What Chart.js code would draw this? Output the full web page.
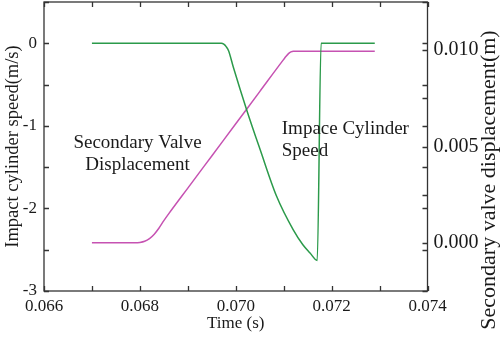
<!DOCTYPE html>
<html>
<head>
<meta charset="utf-8">
<script src="https://cdn.jsdelivr.net/npm/chart.js@4"></script>
<style>
  body { margin: 0; background: #fff; }
</style>
</head>
<body>
<canvas id="chart" width="500" height="341"></canvas>
<script>
// Impact cylinder speed (left axis, m/s)
const speedTime = [0.0670, 0.06970, 0.06975, 0.06980, 0.06985, 0.06995, 0.07023, 0.07051, 0.07085, 0.07120, 0.07140, 0.07155, 0.07170, 0.07178, 0.0729];
const speed     = [0,      0,       -0.01,   -0.04,   -0.09,   -0.29,   -0.81,   -1.29,   -1.85,   -2.26,   -2.44,   -2.54,   -2.63,    0,       0];

// Secondary valve displacement (right axis, m)
const valveTime = [0.0670, 0.0679, 0.0680, 0.0681, 0.0682, 0.0683, 0.0684, 0.0685, 0.0686, 0.0690, 0.0695, 0.0700, 0.0705, 0.0710, 0.07105, 0.0711, 0.07115, 0.0712, 0.0729];
const valveDisp = [0,      0,      0.00002, 0.00008, 0.00022, 0.00045, 0.00077, 0.00115, 0.00150, 0.00284, 0.00451, 0.00618, 0.00785, 0.00952, 0.00968, 0.00982, 0.00991, 0.00995, 0.00995];

const xTicks = [0.066, 0.068, 0.070, 0.072, 0.074];
const speedTicks = [-3, -2, -1, 0];
const dispTicks = [0.000, 0.005, 0.010];

const green = "#2b9a4a";
const pink = "#c652b2";
const axisColor = "#333";
const textColor = "#1a1a1a";
const serif = "'Liberation Serif', 'Times New Roman', serif";

// text notes, placed in data coordinates
const notes = [
  { text: "Secondary Valve", x: 0.06795, y: -1.27, align: "center" },
  { text: "Displacement",    x: 0.06795, y: -1.54, align: "center" },
  { text: "Impace Cylinder", x: 0.07096, y: -1.10, align: "left" },
  { text: "Speed",           x: 0.07096, y: -1.37, align: "left" }
];

// frame, inward ticks, notes and right title
const frameTicks = {
  id: "frameTicks",
  afterDraw(chart) {
    const { ctx, chartArea: a, scales } = chart;
    ctx.save();
    ctx.strokeStyle = axisColor;
    ctx.lineWidth = 1.3;
    ctx.strokeRect(a.left, a.top, a.right - a.left, a.bottom - a.top);
    ctx.beginPath();
    for (let i = 0; i <= 8; i++) {
      const px = Math.round(scales.x.getPixelForValue(0.066 + i * 0.001)) + 0.5;
      ctx.moveTo(px, a.bottom); ctx.lineTo(px, a.bottom - 5);
      ctx.moveTo(px, a.top); ctx.lineTo(px, a.top + 5);
    }
    for (let i = 0; i <= 7; i++) {
      const py = Math.round(scales.y.getPixelForValue(-3 + i * 0.5)) + 0.5;
      ctx.moveTo(a.left, py); ctx.lineTo(a.left + 5, py);
      ctx.moveTo(a.right, py); ctx.lineTo(a.right - 5, py);
    }
    for (let i = 0; i <= 4; i++) {
      const py = Math.round(scales.y2.getPixelForValue(i * 0.0025)) + 0.5;
      ctx.moveTo(a.right, py); ctx.lineTo(a.right - 5, py);
    }
    ctx.stroke();

    ctx.fillStyle = textColor;
    ctx.font = "19px " + serif;
    ctx.textBaseline = "alphabetic";
    notes.forEach(n => {
      ctx.textAlign = n.align;
      ctx.fillText(n.text, scales.x.getPixelForValue(n.x), scales.y.getPixelForValue(n.y));
    });

    ctx.translate(489, 180);
    ctx.rotate(-Math.PI / 2);
    ctx.font = "22px " + serif;
    ctx.textAlign = "center";
    ctx.textBaseline = "middle";
    ctx.fillText("Secondary valve displacement(m)", 0, 0);
    ctx.restore();
  }
};

new Chart(document.getElementById("chart"), {
  type: "line",
  data: {
    datasets: [
      {
        label: "Impace Cylinder Speed",
        data: speedTime.map((t, i) => ({ x: t, y: speed[i] })),
        borderColor: green,
        borderWidth: 1.5,
        pointRadius: 0,
        cubicInterpolationMode: "monotone",
        yAxisID: "y"
      },
      {
        label: "Secondary Valve Displacement",
        data: valveTime.map((t, i) => ({ x: t, y: valveDisp[i] })),
        borderColor: pink,
        borderWidth: 1.5,
        pointRadius: 0,
        cubicInterpolationMode: "monotone",
        yAxisID: "y2"
      }
    ]
  },
  options: {
    responsive: false,
    devicePixelRatio: 1,
    animation: false,
    layout: { padding: { top: 2, right: 0, left: 0, bottom: 0 } },
    plugins: { legend: { display: false }, tooltip: { enabled: false } },
    scales: {
      x: {
        type: "linear",
        min: 0.066,
        max: 0.074,
        grid: { display: false, drawTicks: false },
        border: { display: false },
        afterBuildTicks: s => { s.ticks = xTicks.map(v => ({ value: v })); },
        ticks: {
          padding: 5,
          color: textColor,
          font: { family: serif, size: 17 },
          callback: v => v.toFixed(3)
        },
        title: {
          display: true,
          text: "Time (s)",
          color: textColor,
          font: { family: serif, size: 17 },
          padding: { top: 0, bottom: 7 }
        },
        afterFit: s => { s.height = 50; s.paddingLeft = 0; s.paddingRight = 0; }
      },
      y: {
        position: "left",
        min: -3,
        max: 0.5,
        grid: { display: false, drawTicks: false },
        border: { display: false },
        afterBuildTicks: s => { s.ticks = speedTicks.map(v => ({ value: v })); },
        ticks: {
          padding: 7,
          color: textColor,
          font: { family: serif, size: 17 },
          callback: v => String(v)
        },
        title: {
          display: true,
          text: "Impact cylinder speed(m/s)",
          color: textColor,
          font: { family: serif, size: 18.5 },
          padding: { top: 2, bottom: 0 }
        },
        afterFit: s => { s.width = 44; s.paddingTop = 0; s.paddingBottom = 0; }
      },
      y2: {
        position: "right",
        min: -0.0025,
        max: 0.0125,
        grid: { display: false, drawTicks: false },
        border: { display: false },
        afterBuildTicks: s => { s.ticks = dispTicks.map(v => ({ value: v })); },
        ticks: {
          padding: 6,
          color: textColor,
          font: { family: serif, size: 20 },
          callback: v => v.toFixed(3)
        },
        afterFit: s => { s.width = 72.5; s.paddingTop = 0; s.paddingBottom = 0; }
      }
    }
  },
  plugins: [frameTicks]
});
</script>
</body>
</html>
